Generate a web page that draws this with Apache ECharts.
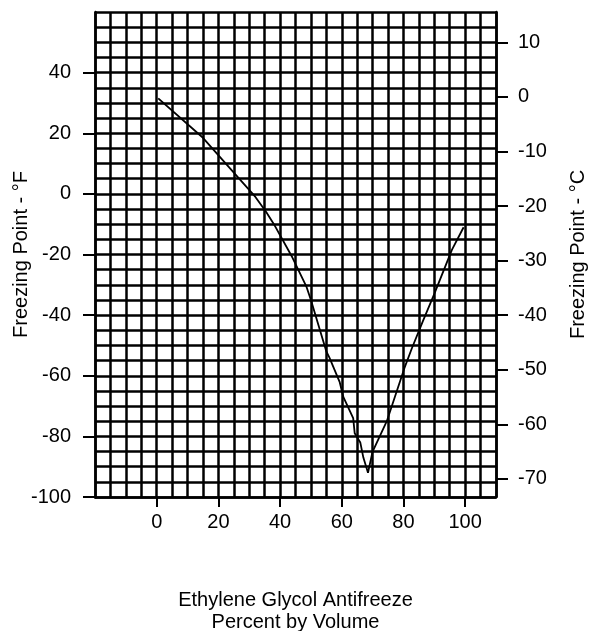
<!DOCTYPE html>
<html>
<head>
<meta charset="utf-8">
<script src="https://cdn.jsdelivr.net/npm/echarts@6/dist/echarts.min.js"></script>
<style>
html,body{margin:0;padding:0;background:#fff;}
#chart{width:590px;height:631px;}
</style>
</head>
<body>
<div id="chart"></div>
<script>
// Percent by volume of ethylene glycol
const percent = [0.5, 15, 25, 32, 35.5, 38, 44, 48.5, 50, 55, 56, 59.3, 60.5, 63.7, 64.2, 66, 67, 68.5, 70, 74.6, 80.3, 82.7, 86.3, 90, 95.7, 99.5];
// Freezing point, degrees F
const freezeF = [31.5, 18.5, 7, -1, -6, -10, -21, -30.5, -35, -52, -54, -62, -67, -74, -79, -82, -87, -92, -85, -75, -57.5, -51, -42, -33, -18.5, -11];
// Tick labels
const xTicks = [0, 20, 40, 60, 80, 100];
const fTicks = [-100, -80, -60, -40, -20, 0, 20, 40];
const cTicks = [-70, -60, -50, -40, -30, -20, -10, 0, 10];

const F_MIN = -100, F_MAX = 60;
const toC = f => (f - 32) * 5 / 9;

const FONT = 'Liberation Sans, Arial, sans-serif';
const black = '#000';
const labelStyle = { color: black, fontSize: 20, fontFamily: FONT };
const nameStyle = { color: black, fontSize: 20, fontFamily: FONT };
const lineSt = { color: black, width: 2.5 };
const tickSt = { color: black, width: 2 };

const chart = echarts.init(document.getElementById('chart'), null, { renderer: 'canvas' });
const option = {
  animation: false,
  backgroundColor: '#fff',
  grid: { left: 95, right: 94, top: 12, bottom: 134, containLabel: false, outerBoundsMode: 'none' },
  xAxis: [
    {
      type: 'value', min: -20, max: 110, position: 'bottom', offset: 0,
      axisLine: { show: true, onZero: false, lineStyle: lineSt },
      axisTick: { show: true, inside: false, customValues: xTicks, length: 10, lineStyle: tickSt },
      axisLabel: Object.assign({ show: true, customValues: xTicks, margin: 15 }, labelStyle),
      splitLine: { show: false },
      name: 'Ethylene Glycol Antifreeze\nPercent by Volume',
      nameLocation: 'middle', nameGap: 92, nameMoveOverlap: false,
      nameTextStyle: Object.assign({ lineHeight: 22 }, nameStyle),
      z: 5
    },
    {
      type: 'value', min: -20, max: 110, interval: 5, position: 'bottom', offset: 0,
      axisLine: { show: false, onZero: false },
      axisTick: { show: false }, axisLabel: { show: false },
      splitLine: { show: true, lineStyle: lineSt }
    }
  ],
  yAxis: [
    {
      type: 'value', min: F_MIN, max: F_MAX, position: 'left', offset: 0,
      axisLine: { show: true, onZero: false, lineStyle: lineSt },
      axisTick: { show: true, inside: false, customValues: fTicks, length: 12, lineStyle: tickSt },
      axisLabel: Object.assign({ show: true, customValues: fTicks, margin: 24 }, labelStyle),
      splitLine: { show: false },
      name: 'Freezing Point - °F', nameLocation: 'middle', nameGap: 64, nameRotate: 90,
      nameMoveOverlap: false,
      nameTextStyle: nameStyle,
      z: 5
    },
    {
      type: 'value', min: toC(F_MIN), max: toC(F_MAX), position: 'right', offset: 0,
      axisLine: { show: true, onZero: false, lineStyle: lineSt },
      axisTick: { show: true, inside: false, customValues: cTicks, length: 12, lineStyle: tickSt },
      axisLabel: Object.assign({ show: true, customValues: cTicks, margin: 22 }, labelStyle),
      splitLine: { show: false },
      name: 'Freezing Point - °C', nameLocation: 'middle', nameGap: 72, nameRotate: 90,
      nameMoveOverlap: false,
      nameTextStyle: nameStyle
    },
    {
      type: 'value', min: F_MIN, max: F_MAX, interval: 5, position: 'left', offset: 0,
      axisLine: { show: false, onZero: false },
      axisTick: { show: false }, axisLabel: { show: false },
      splitLine: { show: true, lineStyle: lineSt }
    }
  ],
  series: [
    {
      type: 'line', xAxisIndex: 0, yAxisIndex: 0,
      data: percent.map((p, i) => [p, freezeF[i]]),
      showSymbol: false, symbol: 'none', smooth: false,
      lineStyle: { color: black, width: 1.8 }
    },
    { type: 'line', xAxisIndex: 1, yAxisIndex: 2, data: [], silent: true }
  ]
};
chart.setOption(option);
</script>
</body>
</html>
